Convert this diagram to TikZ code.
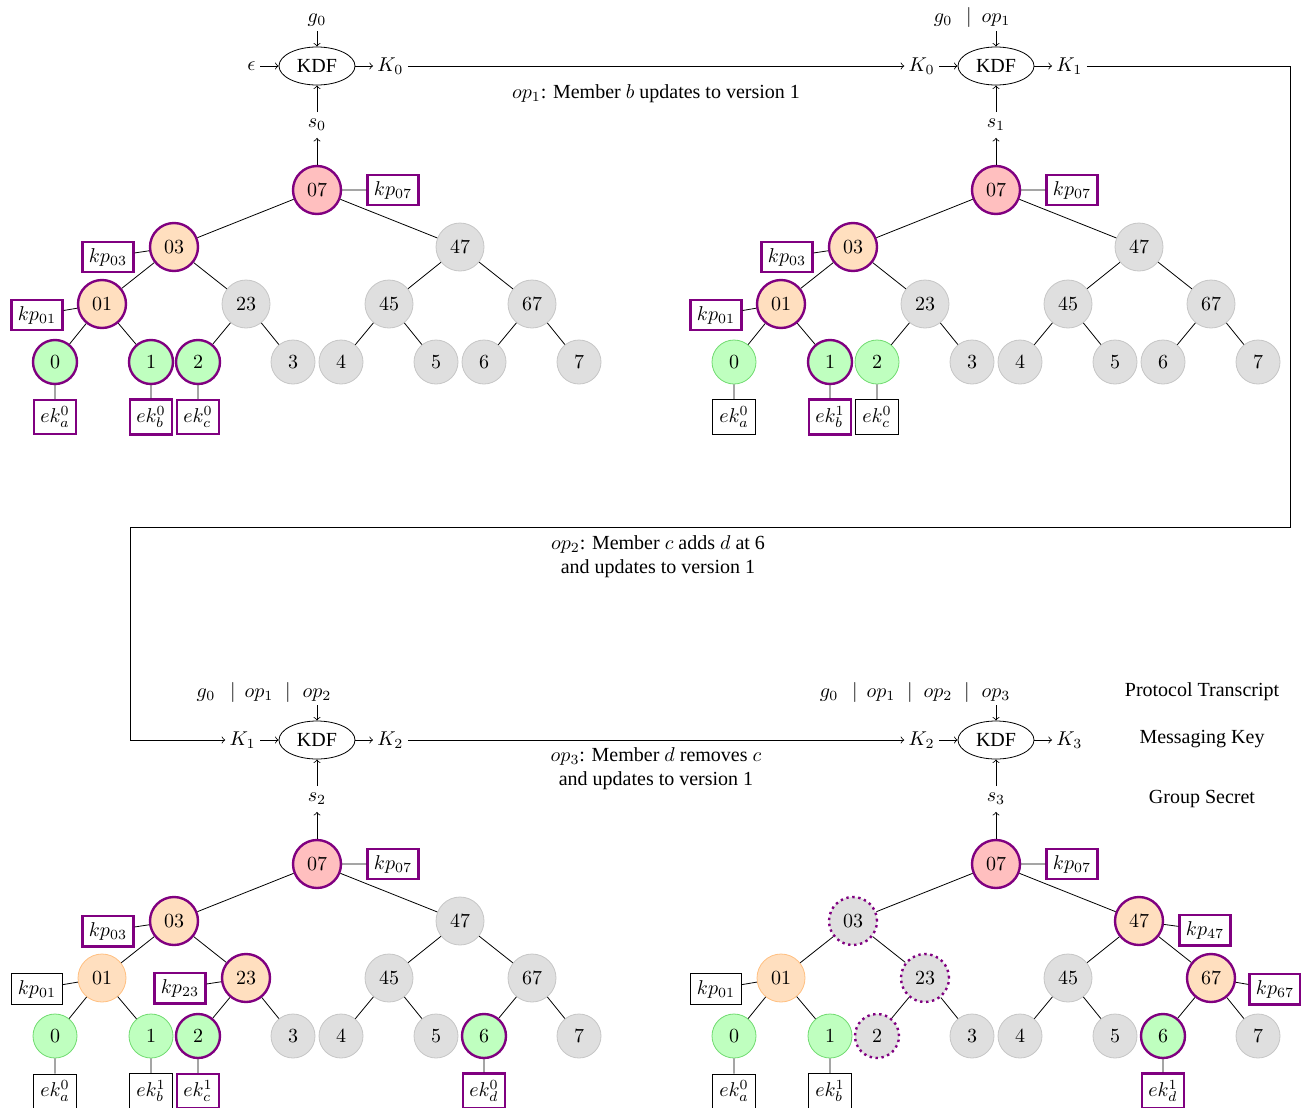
\documentclass[tikz,border=0pt]{standalone}
\usepackage{fontspec}
\setmainfont{Liberation Serif}
\usetikzlibrary{shapes.geometric}
\newcommand\treeedges[1]{%
 \draw (#1n07)--(#1n03) (#1n07)--(#1n47)
 (#1n03)--(#1n01) (#1n03)--(#1n23) (#1n47)--(#1n45) (#1n47)--(#1n67)
 (#1n01)--(#1n0) (#1n01)--(#1n1) (#1n23)--(#1n2) (#1n23)--(#1n3)
 (#1n45)--(#1n4) (#1n45)--(#1n5) (#1n67)--(#1n6) (#1n67)--(#1n7);}
\begin{document}
\begin{tikzpicture}[x=0.5pt,y=-0.5pt,
 tn/.style={circle,inner sep=0pt,minimum size=24pt,draw=gray!45,fill=gray!25,line width=0.4pt},
 lf/.style={tn,minimum size=22pt},
 gn/.style={fill=green!25,draw=green!60!gray!70},
 og/.style={fill=orange!25,draw=orange!50},
 pk/.style={fill=red!25},
 hl/.style={draw=violet,line width=1.2pt},
 dt/.style={draw=violet,line width=1.2pt,dash pattern=on 1.2pt off 1.8pt},
 bx/.style={draw,rectangle,inner sep=3.2pt,line width=0.5pt},
 bh/.style={bx,draw=violet,line width=1.2pt},
 kdf/.style={ellipse,draw,minimum width=38pt,minimum height=19pt,inner sep=0pt},
 lab/.style={inner sep=2pt},
 p07/.style={at={(0,0)}},
 p03/.style={at={(-143,57)}}, p47/.style={at={(143,57)}},
 p01/.style={at={(-215,114)}}, p23/.style={at={(-71,114)}},
 p45/.style={at={(72,114)}}, p67/.style={at={(215,114)}},
 p0/.style={at={(-262,172)}}, p1/.style={at={(-166,172)}},
 p2/.style={at={(-119,172)}}, p3/.style={at={(-24,172)}},
 p4/.style={at={(24,172)}}, p5/.style={at={(119,172)}},
 p6/.style={at={(167,172)}}, p7/.style={at={(262,172)}}]
\useasboundingbox (0,0) rectangle (1301,1108);

% ---------------- panel A (top left)
\begin{scope}[shift={(317,190)}]
\node[tn,pk,hl,p07] (an07) {$07$};
\node[tn,og,hl,p03] (an03) {$03$};
\node[tn,p47] (an47) {$47$};
\node[tn,og,hl,p01] (an01) {$01$};
\node[tn,p23] (an23) {$23$};
\node[tn,p45] (an45) {$45$};
\node[tn,p67] (an67) {$67$};
\node[lf,gn,hl,p0] (an0) {$0$};
\node[lf,gn,hl,p1] (an1) {$1$};
\node[lf,gn,hl,p2] (an2) {$2$};
\node[lf,p3] (an3) {$3$};
\node[lf,p4] (an4) {$4$};
\node[lf,p5] (an5) {$5$};
\node[lf,p6] (an6) {$6$};
\node[lf,p7] (an7) {$7$};
\treeedges{a}
\node[bh] (akp07) at (76,0) {$kp_{07}$};
\node[bh] (akp03) at (-209,67) {$kp_{03}$};
\node[bh] (akp01) at (-280,125) {$kp_{01}$};
\node[bh] (aeka) at (-262,227) {$ek_a^0$};
\node[bh] (aekb) at (-166,227) {$ek_b^0$};
\node[bh] (aekc) at (-119,227) {$ek_c^0$};
\draw (akp07)--(an07) (akp03)--(an03) (akp01)--(an01)
 (aeka)--(an0) (aekb)--(an1) (aekc)--(an2);
\node[kdf] (akdf) at (0,-124) {KDF};
\node (as) at (0,-65) {$s_0$};
\node[lab,anchor=east] (ain) at (-57,-124) {$\epsilon$};
\node[lab,anchor=west] (aout) at (56,-124) {$K_0$};
\node[lab,anchor=base] (ag0) at (0,-167) {$g_0$};
\draw[->] (an07)--(as);
\draw[->] (as)--(akdf);
\draw[->] (ain)--(akdf);
\draw[->] (akdf)--(aout);
\draw[->] (ag0)--(akdf);
\end{scope}

% ---------------- panel B (top right)
\begin{scope}[shift={(996,190)}]
\node[tn,pk,hl,p07] (bn07) {$07$};
\node[tn,og,hl,p03] (bn03) {$03$};
\node[tn,p47] (bn47) {$47$};
\node[tn,og,hl,p01] (bn01) {$01$};
\node[tn,p23] (bn23) {$23$};
\node[tn,p45] (bn45) {$45$};
\node[tn,p67] (bn67) {$67$};
\node[lf,gn,p0] (bn0) {$0$};
\node[lf,gn,hl,p1] (bn1) {$1$};
\node[lf,gn,p2] (bn2) {$2$};
\node[lf,p3] (bn3) {$3$};
\node[lf,p4] (bn4) {$4$};
\node[lf,p5] (bn5) {$5$};
\node[lf,p6] (bn6) {$6$};
\node[lf,p7] (bn7) {$7$};
\treeedges{b}
\node[bh] (bkp07) at (76,0) {$kp_{07}$};
\node[bh] (bkp03) at (-209,67) {$kp_{03}$};
\node[bh] (bkp01) at (-280,125) {$kp_{01}$};
\node[bx] (beka) at (-262,227) {$ek_a^0$};
\node[bh] (bekb) at (-166,227) {$ek_b^1$};
\node[bx] (bekc) at (-119,227) {$ek_c^0$};
\draw (bkp07)--(bn07) (bkp03)--(bn03) (bkp01)--(bn01)
 (beka)--(bn0) (bekb)--(bn1) (bekc)--(bn2);
\node[kdf] (bkdf) at (0,-124) {KDF};
\node (bs) at (0,-65) {$s_1$};
\node[lab,anchor=east] (bin) at (-57,-124) {$K_0$};
\node[lab,anchor=west] (bout) at (56,-124) {$K_1$};
\node[lab,anchor=base] (bg0) at (-53,-167) {$g_0$};
\node[lab,anchor=base] (bbar1) at (-27,-167) {$|$};
\node[lab,anchor=base] (bop1) at (0,-167) {$op_1$};
\draw[->] (bn07)--(bs);
\draw[->] (bs)--(bkdf);
\draw[->] (bin)--(bkdf);
\draw[->] (bkdf)--(bout);
\draw[->] (bop1)--(bkdf);
\end{scope}

% ---------------- panel C (bottom left)
\begin{scope}[shift={(317,864)}]
\node[tn,pk,hl,p07] (cn07) {$07$};
\node[tn,og,hl,p03] (cn03) {$03$};
\node[tn,p47] (cn47) {$47$};
\node[tn,og,p01] (cn01) {$01$};
\node[tn,og,hl,p23] (cn23) {$23$};
\node[tn,p45] (cn45) {$45$};
\node[tn,p67] (cn67) {$67$};
\node[lf,gn,p0] (cn0) {$0$};
\node[lf,gn,p1] (cn1) {$1$};
\node[lf,gn,hl,p2] (cn2) {$2$};
\node[lf,p3] (cn3) {$3$};
\node[lf,p4] (cn4) {$4$};
\node[lf,p5] (cn5) {$5$};
\node[lf,gn,hl,p6] (cn6) {$6$};
\node[lf,p7] (cn7) {$7$};
\treeedges{c}
\node[bh] (ckp07) at (76,0) {$kp_{07}$};
\node[bh] (ckp03) at (-209,67) {$kp_{03}$};
\node[bx] (ckp01) at (-280,125) {$kp_{01}$};
\node[bh] (ckp23) at (-137,124) {$kp_{23}$};
\node[bx] (ceka) at (-262,227) {$ek_a^0$};
\node[bx] (cekb) at (-166,227) {$ek_b^1$};
\node[bh] (cekc) at (-119,227) {$ek_c^1$};
\node[bh] (cekd) at (167,227) {$ek_d^0$};
\draw (ckp07)--(cn07) (ckp03)--(cn03) (ckp01)--(cn01) (ckp23)--(cn23)
 (ceka)--(cn0) (cekb)--(cn1) (cekc)--(cn2) (cekd)--(cn6);
\node[kdf] (ckdf) at (0,-124) {KDF};
\node (cs) at (0,-65) {$s_2$};
\node[lab,anchor=east] (cin) at (-57,-124) {$K_1$};
\node[lab,anchor=west] (cout) at (56,-124) {$K_2$};
\node[lab,anchor=base] (cg0) at (-111,-167) {$g_0$};
\node[lab,anchor=base] (cbar1) at (-84,-167) {$|$};
\node[lab,anchor=base] (cop1) at (-58,-167) {$op_1$};
\node[lab,anchor=base] (cbar2) at (-29,-167) {$|$};
\node[lab,anchor=base] (cop2) at (0,-167) {$op_2$};
\draw[->] (cn07)--(cs);
\draw[->] (cs)--(ckdf);
\draw[->] (cin)--(ckdf);
\draw[->] (ckdf)--(cout);
\draw[->] (cop2)--(ckdf);
\end{scope}

% ---------------- panel D (bottom right)
\begin{scope}[shift={(996,864)}]
\node[tn,pk,hl,p07] (dn07) {$07$};
\node[tn,dt,p03] (dn03) {$03$};
\node[tn,og,hl,p47] (dn47) {$47$};
\node[tn,og,p01] (dn01) {$01$};
\node[tn,dt,p23] (dn23) {$23$};
\node[tn,p45] (dn45) {$45$};
\node[tn,og,hl,p67] (dn67) {$67$};
\node[lf,gn,p0] (dn0) {$0$};
\node[lf,gn,p1] (dn1) {$1$};
\node[lf,dt,p2] (dn2) {$2$};
\node[lf,p3] (dn3) {$3$};
\node[lf,p4] (dn4) {$4$};
\node[lf,p5] (dn5) {$5$};
\node[lf,gn,hl,p6] (dn6) {$6$};
\node[lf,p7] (dn7) {$7$};
\treeedges{d}
\node[bh] (dkp07) at (76,0) {$kp_{07}$};
\node[bx] (dkp01) at (-280,125) {$kp_{01}$};
\node[bh] (dkp47) at (209,66) {$kp_{47}$};
\node[bh] (dkp67) at (279,125) {$kp_{67}$};
\node[bx] (deka) at (-262,227) {$ek_a^0$};
\node[bx] (dekb) at (-166,227) {$ek_b^1$};
\node[bh] (dekd) at (167,227) {$ek_d^1$};
\draw (dkp07)--(dn07) (dkp01)--(dn01) (dkp47)--(dn47) (dkp67)--(dn67)
 (deka)--(dn0) (dekb)--(dn1) (dekd)--(dn6);
\node[kdf] (dkdf) at (0,-124) {KDF};
\node (ds) at (0,-65) {$s_3$};
\node[lab,anchor=east] (din) at (-57,-124) {$K_2$};
\node[lab,anchor=west] (dout) at (56,-124) {$K_3$};
\node[lab,anchor=base] (dg0) at (-167,-167) {$g_0$};
\node[lab,anchor=base] (dbar1) at (-141,-167) {$|$};
\node[lab,anchor=base] (dop1) at (-115,-167) {$op_1$};
\node[lab,anchor=base] (dbar2) at (-86,-167) {$|$};
\node[lab,anchor=base] (dop2) at (-58,-167) {$op_2$};
\node[lab,anchor=base] (dbar3) at (-29,-167) {$|$};
\node[lab,anchor=base] (dop3) at (0,-167) {$op_3$};
\draw[->] (dn07)--(ds);
\draw[->] (ds)--(dkdf);
\draw[->] (din)--(dkdf);
\draw[->] (dkdf)--(dout);
\draw[->] (dop3)--(dkdf);
\end{scope}

% ---------------- connectors between panels
\draw[->] (aout)--(bin);
\node (l1) at (656,94) {$op_1$: Member $b$ updates to version 1};
\coordinate (r1) at (1290,527);
\coordinate (r2) at (130,527);
\draw[->] (bout) -| (r1) -- (r2) |- (cin);
\node[align=center] (l2) at (658,557) {$op_2$: Member $c$ adds $d$ at 6\\and updates to version 1};
\draw[->] (cout)--(din);
\node[align=center] (l3) at (656,769) {$op_3$: Member $d$ removes $c$\\and updates to version 1};

% ---------------- legend
\node (t1) at (1202,692) {Protocol Transcript};
\node (t2) at (1202,739) {Messaging Key};
\node (t3) at (1202,799) {Group Secret};
\end{tikzpicture}
\end{document}
